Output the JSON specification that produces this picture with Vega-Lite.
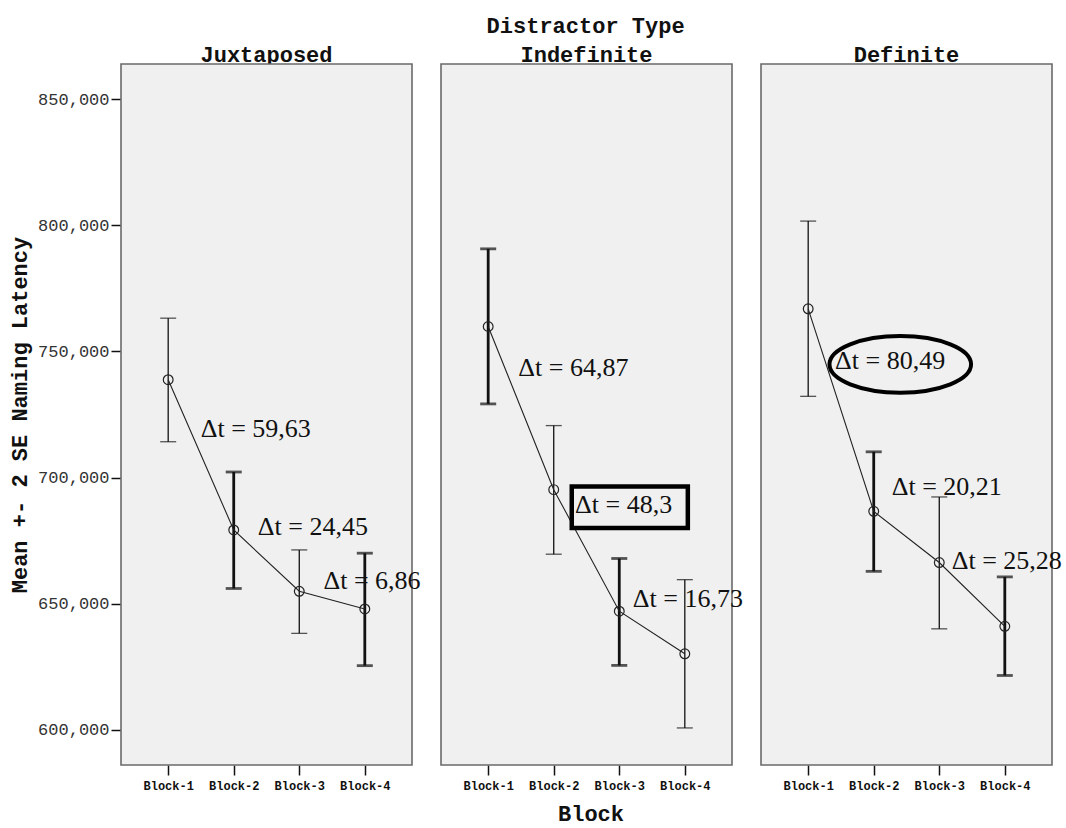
{
  "$schema": "https://vega.github.io/schema/vega-lite/v6.json",
  "padding": {"left": 8, "top": 15, "right": 10, "bottom": 0},
  "title": {
    "text": "Distractor Type",
    "anchor": "middle",
    "font": "Liberation Mono",
    "fontSize": 22,
    "fontWeight": "bold",
    "color": "#111111",
    "offset": 6,
    "dx": 50
  },
  "data": {
    "values": [
      {"panel": "Juxtaposed", "kind": "stat", "block": 1, "mean": 738800, "lo": 714200, "hi": 763200, "emph": "no"},
      {"panel": "Juxtaposed", "kind": "stat", "block": 2, "mean": 679200, "lo": 656000, "hi": 702200, "emph": "yes"},
      {"panel": "Juxtaposed", "kind": "stat", "block": 3, "mean": 654900, "lo": 638200, "hi": 671300, "emph": "no"},
      {"panel": "Juxtaposed", "kind": "stat", "block": 4, "mean": 647900, "lo": 625400, "hi": 670000, "emph": "yes"},
      {"panel": "Indefinite", "kind": "stat", "block": 1, "mean": 759900, "lo": 729200, "hi": 790700, "emph": "yes"},
      {"panel": "Indefinite", "kind": "stat", "block": 2, "mean": 695200, "lo": 669600, "hi": 720600, "emph": "no"},
      {"panel": "Indefinite", "kind": "stat", "block": 3, "mean": 647000, "lo": 625500, "hi": 667900, "emph": "yes"},
      {"panel": "Indefinite", "kind": "stat", "block": 4, "mean": 630100, "lo": 600700, "hi": 659500, "emph": "no"},
      {"panel": "Definite", "kind": "stat", "block": 1, "mean": 766900, "lo": 732200, "hi": 801700, "emph": "no"},
      {"panel": "Definite", "kind": "stat", "block": 2, "mean": 686600, "lo": 662800, "hi": 710200, "emph": "yes"},
      {"panel": "Definite", "kind": "stat", "block": 3, "mean": 666300, "lo": 640000, "hi": 692300, "emph": "no"},
      {"panel": "Definite", "kind": "stat", "block": 4, "mean": 641000, "lo": 621500, "hi": 660600, "emph": "yes"},
      {"panel": "Juxtaposed", "kind": "note", "block": 1.497, "mean": 719100, "label": "Δt = 59,63"},
      {"panel": "Juxtaposed", "kind": "note", "block": 2.367, "mean": 680200, "label": "Δt = 24,45"},
      {"panel": "Juxtaposed", "kind": "note", "block": 3.369, "mean": 659100, "label": "Δt = 6,86"},
      {"panel": "Indefinite", "kind": "note", "block": 1.46, "mean": 743500, "label": "Δt = 64,87"},
      {"panel": "Indefinite", "kind": "note", "block": 2.326, "mean": 689000, "label": "Δt = 48,3"},
      {"panel": "Indefinite", "kind": "note", "block": 3.207, "mean": 651800, "label": "Δt = 16,73"},
      {"panel": "Definite", "kind": "note", "block": 1.41, "mean": 746400, "label": "Δt = 80,49"},
      {"panel": "Definite", "kind": "note", "block": 2.275, "mean": 696400, "label": "Δt = 20,21"},
      {"panel": "Definite", "kind": "note", "block": 3.19, "mean": 667000, "label": "Δt = 25,28"},
      {"panel": "Indefinite", "kind": "box", "block": 2.275, "block2": 4.046, "lo": 680000, "hi": 696400},
      {"panel": "Definite", "kind": "ellipse", "block": 2.405, "mean": 744900}
    ]
  },
  "facet": {
    "column": {
      "field": "panel",
      "type": "nominal",
      "sort": ["Juxtaposed", "Indefinite", "Definite"],
      "title": "Block",
      "header": {
        "titleOrient": "bottom",
        "titleFont": "Liberation Mono",
        "titleFontSize": 22,
        "titleFontWeight": "bold",
        "titleColor": "#111111",
        "titlePadding": 3,
        "labelOrient": "top",
        "labelFont": "Liberation Mono",
        "labelFontSize": 22,
        "labelFontWeight": "bold",
        "labelColor": "#111111",
        "labelPadding": -3
      }
    }
  },
  "spacing": 29,
  "bounds": "flush",
  "spec": {
    "width": 291,
    "height": 701,
    "encoding": {
      "x": {
        "field": "block",
        "type": "quantitative",
        "scale": {"domain": [0.28, 4.72], "nice": false, "zero": false},
        "axis": {
          "title": null,
          "values": [1, 2, 3, 4],
          "labelExpr": "'Block-' + datum.value",
          "grid": false,
          "domain": false,
          "tickSize": 10,
          "tickColor": "#111111",
          "tickWidth": 1.5,
          "labelFont": "Liberation Mono",
          "labelFontSize": 12,
          "labelFontWeight": "bold",
          "labelColor": "#111111",
          "labelPadding": 5
        }
      }
    },
    "layer": [
      {
        "transform": [{"filter": "datum.kind === 'stat'"}],
        "mark": {"type": "rule", "color": "#111111"},
        "encoding": {
          "y": {
            "field": "lo",
            "type": "quantitative",
            "title": "Mean +- 2 SE Naming Latency",
            "scale": {"domain": [586000, 864000], "nice": false, "zero": false},
            "axis": {
              "values": [600000, 650000, 700000, 750000, 800000, 850000],
              "labelExpr": "format(datum.value, ',')",
              "grid": false,
              "domain": false,
              "tickSize": 10,
              "tickColor": "#111111",
              "tickWidth": 1.5,
              "labelFont": "Liberation Mono",
              "labelFontSize": 17,
              "labelColor": "#333333",
              "labelPadding": 2,
              "titleFont": "Liberation Mono",
              "titleFontSize": 22,
              "titleFontWeight": "bold",
              "titleColor": "#111111",
              "titlePadding": 6
            }
          },
          "y2": {"field": "hi"},
          "strokeWidth": {"field": "emph", "type": "nominal", "scale": {"domain": ["no", "yes"], "range": [1.3, 2.8]}, "legend": null}
        }
      },
      {
        "transform": [{"filter": "datum.kind === 'stat'"}],
        "mark": {"type": "point", "shape": "M-1,0L1,0", "filled": false, "color": "#111111", "size": 256},
        "encoding": {
          "y": {"field": "hi", "type": "quantitative", "title": "Mean +- 2 SE Naming Latency"},
          "strokeWidth": {"field": "emph", "type": "nominal", "scale": {"domain": ["no", "yes"], "range": [1.3, 2.8]}, "legend": null}
        }
      },
      {
        "transform": [{"filter": "datum.kind === 'stat'"}],
        "mark": {"type": "point", "shape": "M-1,0L1,0", "filled": false, "color": "#111111", "size": 256},
        "encoding": {
          "y": {"field": "lo", "type": "quantitative", "title": "Mean +- 2 SE Naming Latency"},
          "strokeWidth": {"field": "emph", "type": "nominal", "scale": {"domain": ["no", "yes"], "range": [1.3, 2.8]}, "legend": null}
        }
      },
      {
        "transform": [{"filter": "datum.kind === 'stat'"}],
        "mark": {"type": "line", "color": "#222222", "strokeWidth": 1.1},
        "encoding": {
          "y": {"field": "mean", "type": "quantitative", "title": "Mean +- 2 SE Naming Latency"}
        }
      },
      {
        "transform": [{"filter": "datum.kind === 'stat'"}],
        "mark": {"type": "point", "shape": "circle", "filled": false, "color": "#222222", "strokeWidth": 1.2, "size": 95, "opacity": 1},
        "encoding": {
          "y": {"field": "mean", "type": "quantitative", "title": "Mean +- 2 SE Naming Latency"}
        }
      },
      {
        "transform": [{"filter": "datum.kind === 'note'"}],
        "mark": {"type": "text", "align": "left", "baseline": "middle", "font": "Liberation Serif", "fontSize": 26, "color": "#111111"},
        "encoding": {
          "y": {"field": "mean", "type": "quantitative", "title": "Mean +- 2 SE Naming Latency"},
          "text": {"field": "label"}
        }
      },
      {
        "transform": [{"filter": "datum.kind === 'box'"}],
        "mark": {"type": "rect", "filled": false, "stroke": "#000000", "strokeWidth": 4.5},
        "encoding": {
          "x2": {"field": "block2"},
          "y": {"field": "lo", "type": "quantitative", "title": "Mean +- 2 SE Naming Latency"},
          "y2": {"field": "hi"}
        }
      },
      {
        "transform": [{"filter": "datum.kind === 'ellipse'"}],
        "mark": {"type": "point", "shape": "M-1,0A1,0.4,0,1,1,1,0A1,0.4,0,1,1,-1,0Z", "filled": false, "stroke": "#000000", "strokeWidth": 4, "size": 20050, "opacity": 1},
        "encoding": {
          "y": {"field": "mean", "type": "quantitative", "title": "Mean +- 2 SE Naming Latency"}
        }
      }
    ]
  },
  "config": {
    "view": {"fill": "#f0f0f0", "stroke": "#6a6a6a", "strokeWidth": 1.6}
  }
}
